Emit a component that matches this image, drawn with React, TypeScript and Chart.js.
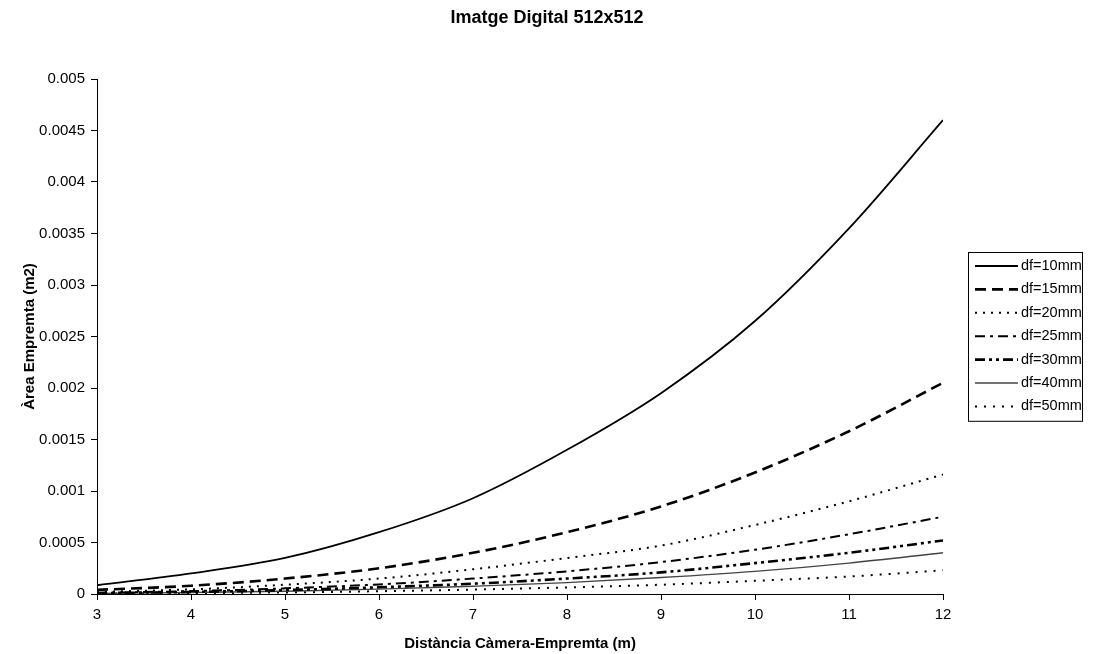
import React, { useEffect, useRef } from 'react';
import { Chart, registerables } from 'chart.js';

Chart.register(...registerables);

// Distància Càmera-Empremta (m)
const distances = [3, 4, 5, 6, 7, 8, 9, 10, 11, 12];

// Àrea Empremta (m2) per distància focal
const df10 = [0.000085, 0.0002, 0.00035, 0.0006, 0.00093, 0.0014, 0.00195, 0.00265, 0.00355, 0.0046];
const df15 = [0.00004, 0.00008, 0.00015, 0.00025, 0.0004, 0.0006, 0.00085, 0.00118, 0.00158, 0.00205];
const df20 = [0.00002, 0.000045, 0.00009, 0.00015, 0.00024, 0.00035, 0.00047, 0.00067, 0.0009, 0.00116];
const df25 = [0.000012, 0.000028, 0.000055, 0.000093, 0.00015, 0.00022, 0.00031, 0.00043, 0.00058, 0.00075];
const df30 = [0.000008, 0.00002, 0.000038, 0.000065, 0.0001, 0.00015, 0.00021, 0.0003, 0.0004, 0.00052];
const df40 = [0.000006, 0.000014, 0.000027, 0.000047, 0.000075, 0.00011, 0.00016, 0.00022, 0.0003, 0.0004];
const df50 = [0.000003, 0.000008, 0.000015, 0.000027, 0.000043, 0.000064, 0.00009, 0.000128, 0.00017, 0.00023];

const seriesLabels = ['df=10mm', 'df=15mm', 'df=20mm', 'df=25mm', 'df=30mm', 'df=40mm', 'df=50mm'];
const seriesValues = [df10, df15, df20, df25, df30, df40, df50];

const chartTitle = 'Imatge Digital 512x512';
const xTitle = 'Distància Càmera-Empremta (m)';
const yTitle = 'Àrea Empremta (m2)';

const styles = [
  { color: '#000', width: 1.8, dash: [] as number[] },
  { color: '#000', width: 2.6, dash: [11, 6] },
  { color: '#000', width: 2, dash: [2, 6] },
  { color: '#000', width: 2, dash: [10, 5, 3, 5] },
  { color: '#000', width: 2.6, dash: [10, 4, 3, 4, 3, 4] },
  { color: '#444', width: 1.4, dash: [] as number[] },
  { color: '#000', width: 2, dash: [2, 7] },
];

const FONT = '"Liberation Sans", Arial, sans-serif';

const titleDraw = {
  id: 'titleDraw',
  afterDraw(chart: any) {
    const ctx = chart.ctx;
    ctx.save();
    ctx.fillStyle = '#000';
    ctx.font = `bold 18px ${FONT}`;
    ctx.textAlign = 'center';
    ctx.textBaseline = 'middle';
    ctx.fillText(chartTitle, chart.width / 2 - 3, 18);
    ctx.restore();
  },
};

const legendBox = {
  id: 'legendBox',
  afterDraw(chart: any) {
    const ctx = chart.ctx;
    const n = chart.data.datasets.length;
    const rowH = 23.4;
    const w = 114;
    const h = rowH * n + 5;
    const x0 = chart.chartArea.right + 25;
    const y0 = Math.round((chart.chartArea.top + chart.chartArea.bottom) / 2 - h / 2);
    ctx.save();
    ctx.setLineDash([]);
    ctx.strokeStyle = '#000';
    ctx.lineWidth = 1;
    ctx.strokeRect(x0 + 0.5, y0 + 0.5, w, h);
    chart.data.datasets.forEach((ds: any, i: number) => {
      const cy = y0 + 14 + i * rowH;
      ctx.beginPath();
      ctx.setLineDash(ds.borderDash || []);
      ctx.lineWidth = ds.borderWidth;
      ctx.strokeStyle = ds.borderColor;
      ctx.moveTo(x0 + 7, cy);
      ctx.lineTo(x0 + 50, cy);
      ctx.stroke();
      ctx.setLineDash([]);
      ctx.fillStyle = '#000';
      ctx.font = `14.5px ${FONT}`;
      ctx.textBaseline = 'middle';
      ctx.textAlign = 'left';
      ctx.fillText(ds.label, x0 + 53, cy);
    });
    ctx.restore();
  },
};

export default function App() {
  const ref = useRef<HTMLCanvasElement | null>(null);

  useEffect(() => {
    if (!ref.current) return;
    const datasets = seriesLabels.map((label, i) => ({
      label,
      data: distances.map((d, j) => ({ x: d, y: seriesValues[i][j] })),
      borderColor: styles[i].color,
      backgroundColor: styles[i].color,
      borderWidth: styles[i].width,
      borderDash: styles[i].dash,
      pointRadius: 0,
      fill: false,
      cubicInterpolationMode: 'monotone' as const,
    }));

    const chart = new Chart(ref.current, {
      type: 'line',
      data: { datasets },
      plugins: [legendBox, titleDraw],
      options: {
        animation: false,
        responsive: false,
        maintainAspectRatio: false,
        layout: { padding: { left: 0, right: 157, top: 79, bottom: 0 } },
        plugins: {
          legend: { display: false },
          tooltip: { enabled: false },
          title: { display: false },
        },
        scales: {
          x: {
            type: 'linear',
            min: 3,
            max: 12,
            afterFit: (s: any) => { s.height = 60; },
            ticks: {
              stepSize: 1,
              color: '#000',
              font: { family: FONT, size: 15 },
              padding: 6,
            },
            grid: { drawOnChartArea: false, drawTicks: true, tickLength: 6, color: '#000' },
            border: { display: true, color: '#000', width: 1 },
            title: {
              display: true,
              text: xTitle,
              color: '#000',
              font: { family: FONT, size: 15, weight: 'bold' },
              padding: { top: 0, bottom: 1 },
            },
          },
          y: {
            type: 'linear',
            min: 0,
            max: 0.005,
            afterFit: (s: any) => { s.width = 97; },
            ticks: {
              stepSize: 0.0005,
              color: '#000',
              font: { family: FONT, size: 15 },
              padding: 6,
              callback: (v: any) => Number(Number(v).toFixed(4)).toString(),
            },
            grid: { drawOnChartArea: false, drawTicks: true, tickLength: 6, color: '#000' },
            border: { display: true, color: '#000', width: 1 },
            title: {
              display: true,
              text: yTitle,
              color: '#000',
              font: { family: FONT, size: 15, weight: 'bold' },
              padding: { top: 21, bottom: 0 },
            },
          },
        },
      },
    });
    return () => chart.destroy();
  }, []);

  return (
    <div style={{ position: 'fixed', left: 0, top: 0, width: 1100, height: 654, background: '#fff' }}>
      <canvas ref={ref} width={1100} height={654} style={{ width: 1100, height: 654, display: 'block' }} />
    </div>
  );
}
